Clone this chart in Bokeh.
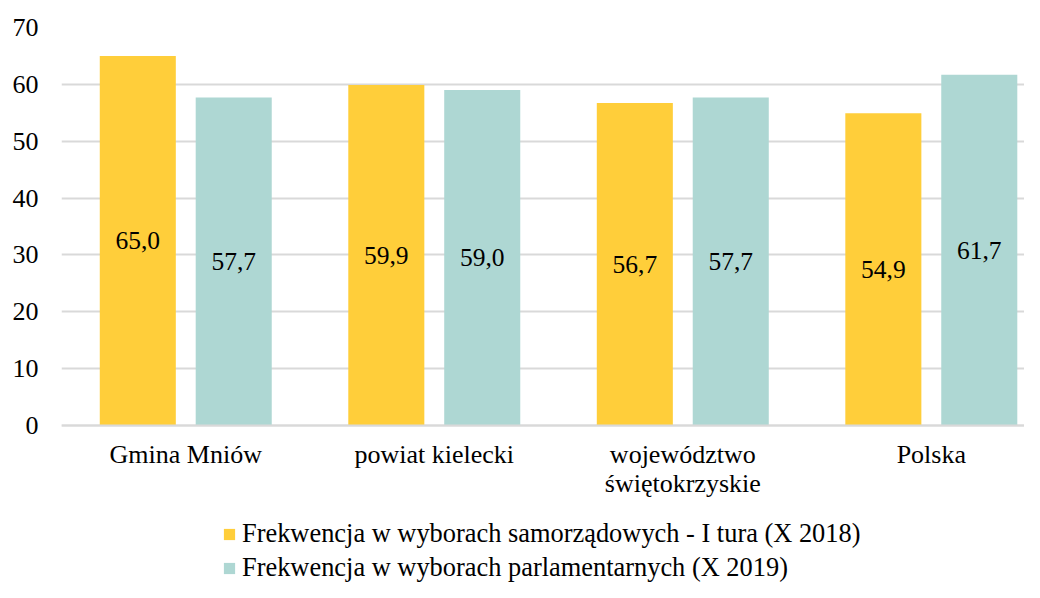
from bokeh.plotting import figure
from bokeh.models import ColumnDataSource, FixedTicker, Legend, LegendItem, Range1d
from bokeh.core.properties import value
from bokeh.embed import file_html
from bokeh.resources import INLINE

categories = ["Gmina Mniów", "powiat kielecki", "województwo\nświętokrzyskie", "Polska"]
series_names = ["Frekwencja w wyborach samorządowych - I tura (X 2018)",
                "Frekwencja w wyborach parlamentarnych (X 2019)"]
samorzadowe_2018 = [65.0, 59.9, 56.7, 54.9]
parlamentarne_2019 = [57.7, 59.0, 57.7, 61.7]
y_ticks = [0, 10, 20, 30, 40, 50, 60, 70]

FONT = "Liberation Serif"
YELLOW = "#FFCE3A"
TEAL = "#AED7D3"
GRID = "#D9D9D9"

centers = [i + 0.5 for i in range(len(categories))]
offset = 0.193
bar_w = 0.306

# frame spans to the bottom; y=0 sits at 398px below the top (70 units)
px_per_unit = 398 / 70
y_bottom = -(582 - 27 - 398) / px_per_unit

p = figure(width=1024, height=582, output_backend="svg", toolbar_location=None,
           x_range=Range1d(0, 3.875), y_range=Range1d(y_bottom, 70),
           min_border_left=61, min_border_right=0, min_border_top=27,
           min_border_bottom=0)
p.outline_line_color = None
p.background_fill_color = "white"

s1 = ColumnDataSource(dict(x=[c - offset for c in centers], top=samorzadowe_2018,
                           mid=[v / 2 for v in samorzadowe_2018],
                           lbl=[f"{v:.1f}".replace(".", ",") for v in samorzadowe_2018]))
s2 = ColumnDataSource(dict(x=[c + offset for c in centers], top=parlamentarne_2019,
                           mid=[v / 2 for v in parlamentarne_2019],
                           lbl=[f"{v:.1f}".replace(".", ",") for v in parlamentarne_2019]))

r1 = p.vbar(x="x", top="top", bottom=0, width=bar_w, source=s1, fill_color=YELLOW, line_color=None)
r2 = p.vbar(x="x", top="top", bottom=0, width=bar_w, source=s2, fill_color=TEAL, line_color=None)

for s in (s1, s2):
    p.text(x="x", y="mid", text="lbl", source=s, text_align="center",
           text_baseline="middle", text_font=value(FONT), text_font_size="25.5px",
           text_color="#000000")

# axes
p.yaxis.ticker = FixedTicker(ticks=y_ticks)
p.yaxis.axis_line_color = None
p.yaxis.major_tick_line_color = None
p.yaxis.minor_tick_line_color = None
p.yaxis.major_tick_out = 0
p.yaxis.major_label_standoff = 23
p.yaxis.major_label_text_font = FONT
p.yaxis.major_label_text_font_size = "26px"
p.yaxis.major_label_text_color = "#000000"

p.xaxis.fixed_location = 0
p.xaxis.ticker = FixedTicker(ticks=centers)
p.xaxis.major_label_overrides = {c: cat for c, cat in zip(centers, categories)}
p.xaxis.axis_line_color = GRID
p.xaxis.axis_line_width = 2
p.xaxis.major_tick_line_color = None
p.xaxis.minor_tick_line_color = None
p.xaxis.major_tick_out = 0
p.xaxis.major_tick_in = 0
p.xaxis.major_label_standoff = 14
p.xaxis.major_label_text_font = FONT
p.xaxis.major_label_text_font_size = "26px"
p.xaxis.major_label_text_line_height = 1.0
p.xaxis.major_label_text_color = "#000000"

p.xgrid.grid_line_color = None
p.ygrid.ticker = FixedTicker(ticks=y_ticks)
p.ygrid.grid_line_color = GRID
p.ygrid.grid_line_width = 2

legend = Legend(items=[LegendItem(label=series_names[0], renderers=[r1]),
                       LegendItem(label=series_names[1], renderers=[r2])],
                location=(161, -1), orientation="vertical",
                glyph_width=14, glyph_height=14, label_height=26, spacing=3,
                label_standoff=6, padding=0, margin=0,
                border_line_color=None, background_fill_alpha=0,
                label_text_font=FONT, label_text_font_size="26.4px",
                label_text_color="#000000")
p.add_layout(legend, "center")

open("out.html", "w").write(file_html(p, INLINE))
